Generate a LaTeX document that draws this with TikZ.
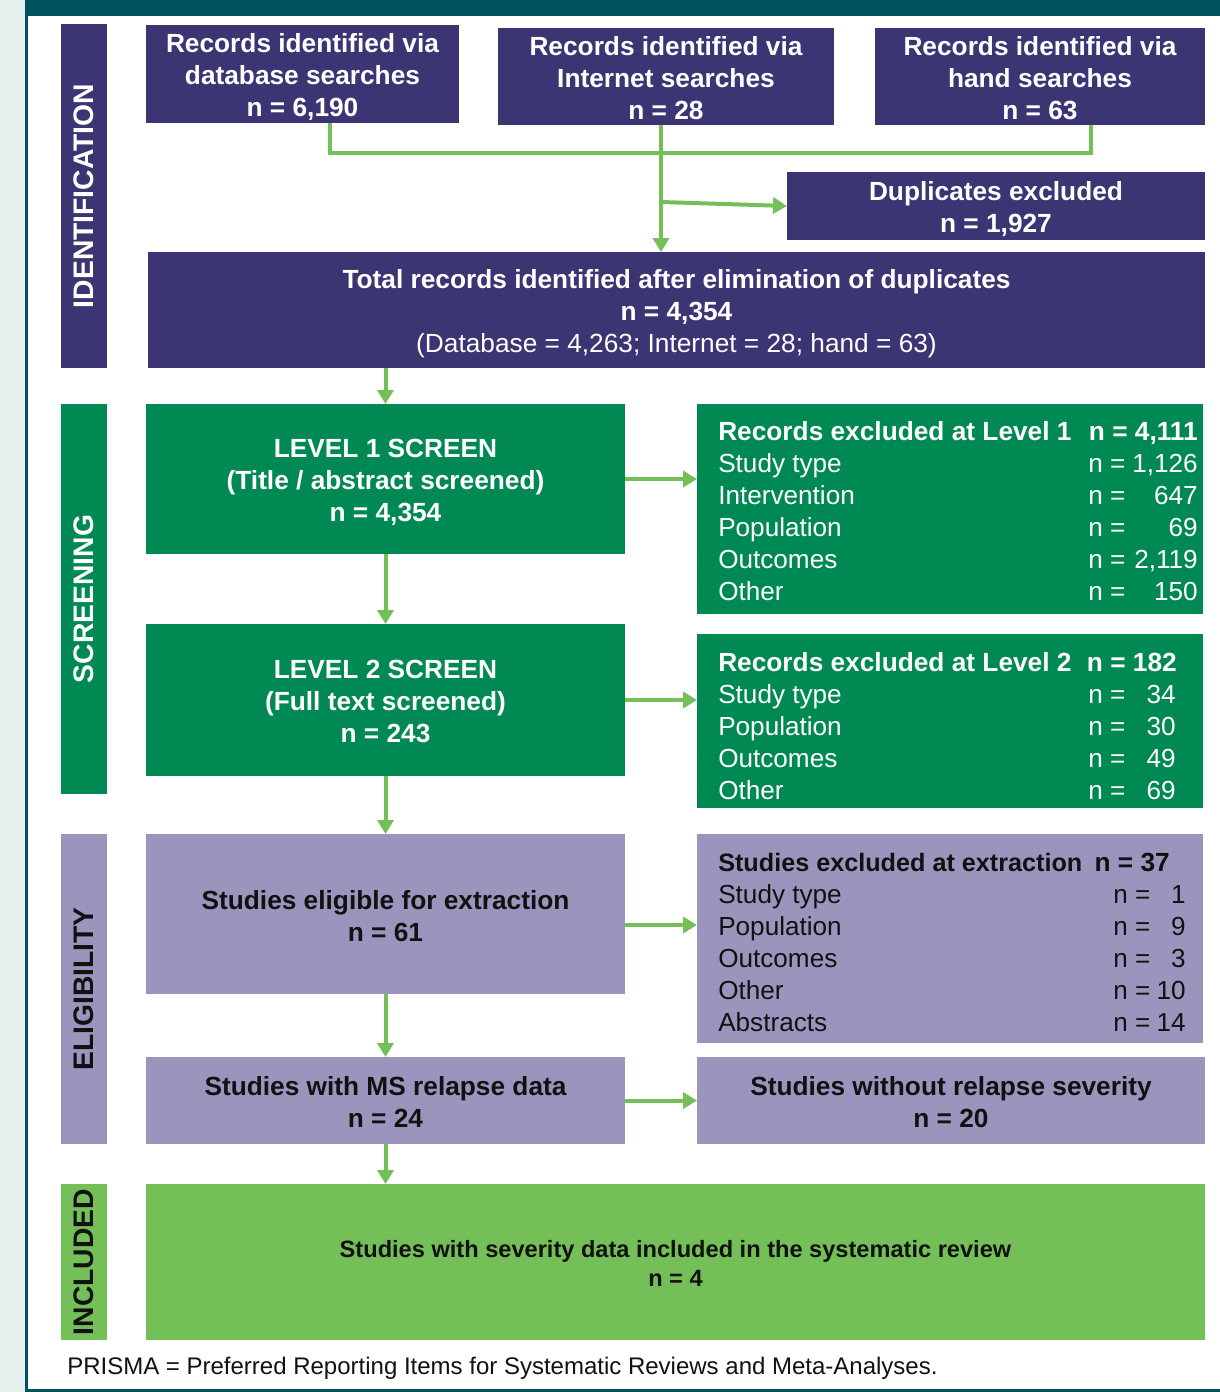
\documentclass[tikz,border=0pt]{standalone}
\usepackage{fontspec}
\setmainfont{Liberation Sans}
\usetikzlibrary{arrows.meta,fit,calc}
\definecolor{dpurple}{RGB}{59,53,116}
\definecolor{dgreen}{RGB}{0,137,82}
\definecolor{lav}{RGB}{155,149,189}
\definecolor{lgreen}{RGB}{116,191,87}
\definecolor{teal}{RGB}{0,82,96}
\definecolor{mint}{RGB}{230,242,238}
\definecolor{ink}{RGB}{17,17,17}
\begin{document}
\begin{tikzpicture}[x=0.75pt,y=-0.75pt,
  blk/.style={inner sep=0pt, outer sep=0pt, draw=none},
  bigtxt/.style={font=\fontsize{19.7}{24}\selectfont\bfseries, align=center, inner sep=0pt},
  rowtxt/.style={font=\fontsize{19.6}{24}\selectfont, inner sep=0pt},
  rowbold/.style={font=\fontsize{19.7}{24}\selectfont\bfseries, inner sep=0pt},
  stagetxt/.style={font=\fontsize{21.2}{24}\selectfont\bfseries, rotate=90, inner sep=0pt},
  conn/.style={draw=lgreen, line width=3pt},
  arr/.style={conn, -{Triangle[width=12pt,length=10.5pt]}}]
\useasboundingbox (0,0) rectangle (1220,1392);
% frame
\fill[white] (0,0) rectangle (1220,1392);
\fill[mint] (0,0) rectangle (25,1392);
\fill[teal] (25,0) rectangle (27.5,1392);
\fill[teal] (25,1389) rectangle (1220,1392);
\fill[teal] (27,0) rectangle (1220,16);

% stage bars
\node[blk, fill=dpurple, fit={(61,24)(107,368)}] (sid) {};
\node[stagetxt, text=white] (sidt) at (sid.center) {IDENTIFICATION};
\node[blk, fill=dgreen, fit={(61,404)(107,794)}] (ssc) {};
\node[stagetxt, text=white] (ssct) at (ssc.center) {SCREENING};
\node[blk, fill=lav, fit={(61,834)(107,1144)}] (sel) {};
\node[stagetxt, text=ink] (selt) at (sel.center) {ELIGIBILITY};
\node[blk, fill=lgreen, fit={(61,1184)(107,1340)}] (sin) {};
\node[stagetxt, text=ink] (sint) at (sin.center) {INCLUDED};

% identification boxes
\node[blk, fill=dpurple, fit={(146,25)(459,123)}] (db) {};
\node[bigtxt, text=white] (dbt) at ($(db.center)+(0,3)$) {Records identified via\\database searches\\n = 6,190};
\node[blk, fill=dpurple, fit={(498,28)(834,125)}] (inet) {};
\node[bigtxt, text=white] (inett) at ($(inet.center)+(0,1.5)$) {Records identified via\\Internet searches\\n = 28};
\node[blk, fill=dpurple, fit={(875,28)(1205,125)}] (hand) {};
\node[bigtxt, text=white] (handt) at ($(hand.center)+(0,1.5)$) {Records identified via\\hand searches\\n = 63};
\node[blk, fill=dpurple, fit={(787,172)(1205,240)}] (dup) {};
\node[bigtxt, text=white] (dupt) at ($(dup.center)+(0,3)$) {Duplicates excluded\\n = 1,927};
\node[blk, fill=dpurple, fit={(148,252)(1205,368)}] (total) {};
\node[bigtxt, text=white] (totalt) at ($(total.center)+(0,3.5)$)
  {Total records identified after elimination of duplicates\\n = 4,354\\{\mdseries (Database = 4,263; Internet = 28; hand = 63)}};

% screening
\node[blk, fill=dgreen, fit={(146,404)(625,554)}] (l1) {};
\node[bigtxt, text=white] (l1t) at ($(l1.center)+(0,3)$) {LEVEL 1 SCREEN\\(Title / abstract screened)\\n = 4,354};
\node[blk, fill=dgreen, fit={(697,404)(1203,614)}] (x1) {};
\node[blk, fill=dgreen, fit={(146,624)(625,776)}] (l2) {};
\node[bigtxt, text=white] (l2t) at ($(l2.center)+(0,1.5)$) {LEVEL 2 SCREEN\\(Full text screened)\\n = 243};
\node[blk, fill=dgreen, fit={(697,634)(1203,808)}] (x2) {};

% eligibility
\node[blk, fill=lav, fit={(146,834)(625,994)}] (elig) {};
\node[bigtxt, text=ink] (eligt) at ($(elig.center)+(0,2)$) {Studies eligible for extraction\\n = 61};
\node[blk, fill=lav, fit={(697,834)(1203,1043)}] (x3) {};
\node[blk, fill=lav, fit={(146,1057)(625,1144)}] (ms) {};
\node[bigtxt, text=ink] (mst) at ($(ms.center)+(0,1.5)$) {Studies with MS relapse data\\n = 24};
\node[blk, fill=lav, fit={(697,1057)(1205,1144)}] (wo) {};
\node[bigtxt, text=ink] (wot) at ($(wo.center)+(0,1.5)$) {Studies without relapse severity\\n = 20};

% included
\node[blk, fill=lgreen, fit={(146,1184)(1205,1340)}] (inc) {};
\node[font=\fontsize{17.7}{21.75}\selectfont\bfseries, align=center, text=ink, inner sep=0pt] (inct) at ($(inc.center)+(0,1.5)$)
  {Studies with severity data included in the systematic review\\n = 4};

% exclusion rows level 1
\begin{scope}[text=white]
\node[rowbold, anchor=base west] (x1h) at (718,440) {Records excluded at Level 1};
\node[rowbold, anchor=base east] (x1hn) at (1198,440) {n = 4,111};
\foreach \lab/\num [count=\i] in {Study type/{1,126}, Intervention/647, Population/69, Outcomes/{2,119}, Other/150}{
  \node[rowtxt, anchor=base west] (x1l\i) at (718,440+32*\i) {\lab};
  \node[rowtxt, anchor=base west] (x1e\i) at (1088,440+32*\i) {n =};
  \node[rowtxt, anchor=base east] (x1n\i) at (1198,440+32*\i) {\num};
}
% level 2
\node[rowbold, anchor=base west] (x2h) at (718,671) {Records excluded at Level 2};
\node[rowbold, anchor=base east] (x2hn) at (1177,671) {n = 182};
\foreach \lab/\num [count=\i] in {Study type/34, Population/30, Outcomes/49, Other/69}{
  \node[rowtxt, anchor=base west] (x2l\i) at (718,671+32*\i) {\lab};
  \node[rowtxt, anchor=base west] (x2e\i) at (1088,671+32*\i) {n =};
  \node[rowtxt, anchor=base east] (x2n\i) at (1176,671+32*\i) {\num};
}
\end{scope}
\begin{scope}[text=ink]
\node[rowbold, anchor=base west, font=\fontsize{18.9}{24}\selectfont\bfseries] (x3h) at (718,871) {Studies excluded at extraction};
\node[rowbold, anchor=base east] (x3hn) at (1170,871) {n = 37};
\foreach \lab/\num [count=\i] in {Study type/1, Population/9, Outcomes/3, Other/10, Abstracts/14}{
  \node[rowtxt, anchor=base west] (x3l\i) at (718,871+32*\i) {\lab};
  \node[rowtxt, anchor=base west] (x3e\i) at (1113,871+32*\i) {n =};
  \node[rowtxt, anchor=base east] (x3n\i) at (1186,871+32*\i) {\num};
}
\end{scope}

% footer
\node[font=\fontsize{18}{21}\selectfont, text=ink, anchor=base west, inner sep=0pt] (foot) at (67,1374)
  {PRISMA = Preferred Reporting Items for Systematic Reviews and Meta-Analyses.};

% connectors
\coordinate (j1) at (330,153);
\coordinate (j2) at (1091,153);
\coordinate (j3) at (661,202);
\draw[conn] (db.south -| j1) -- (j1) -- (j2) -- (hand.south -| j2);
\draw[arr] (inet.south -| j3) -- (total.north -| j3);
\draw[arr] (j3) -- (dup.west);
\draw[arr] (l1.north |- total.south) -- (l1.north);
\draw[arr] (l1.south) -- (l2.north);
\draw[arr] (l2.south) -- (elig.north);
\draw[arr] (elig.south) -- (ms.north);
\draw[arr] (ms.south) -- (inc.north -| ms.south);
\draw[arr] (l1.east) -- (l1.east -| x1.west);
\draw[arr] (l2.east) -- (l2.east -| x2.west);
\draw[arr] ($(elig.east)+(0,11)$) -- ($(elig.east -| x3.west)+(0,11)$);
\draw[arr] (ms.east) -- (wo.west);
\end{tikzpicture}
\end{document}
